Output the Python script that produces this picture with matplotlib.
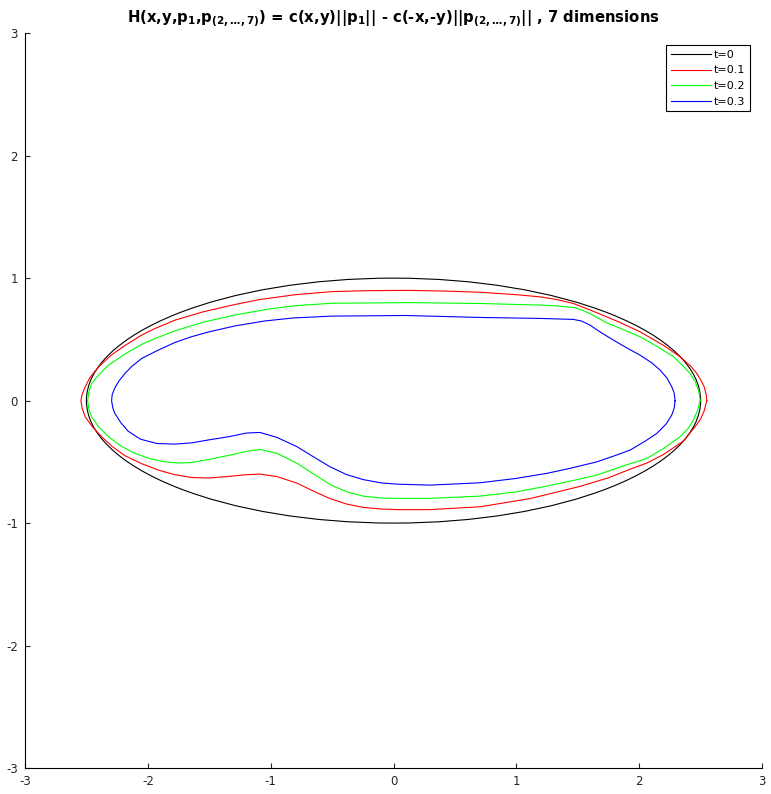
import numpy as np
from matplotlib import pyplot as plt
from matplotlib.patches import Ellipse
from matplotlib.lines import Line2D

plt.rcParams['font.family'] = ['DejaVu Sans']
plt.rcParams['mathtext.default'] = 'bf'
plt.rcParams['axes.unicode_minus'] = False

# t=0 : ellipse, semi axes
ellipse_a = 2.5
ellipse_b = 1.0

# t=0.1
red_x = [2.55, 2.545, 2.53, 2.50, 2.469, 2.42, 2.333, 2.20, 2.007, 1.85, 1.736, 1.60, 1.464, 1.33,
         1.193, 1.0, 0.704, 0.4, 0.13, -0.2, -0.5, -0.8, -1.09, -1.29, -1.55, -1.779, -1.95,
         -2.05, -2.186, -2.30, -2.40, -2.47, -2.51, -2.535, -2.545, -2.535, -2.51, -2.45, -2.376,
         -2.29, -2.186, -2.05, -1.915, -1.78, -1.643, -1.50, -1.331, -1.20, -1.087, -0.95, -0.788,
         -0.65, -0.517, -0.38, -0.246, -0.1, 0.026, 0.297, 0.704, 1.112, 1.519, 1.75, 1.926,
         2.062, 2.198, 2.36, 2.45, 2.50, 2.53, 2.55]
red_y = [0.0, 0.05, 0.11, 0.17, 0.222, 0.28, 0.358, 0.45, 0.562, 0.635, 0.684, 0.74, 0.793, 0.825,
         0.847, 0.865, 0.885, 0.895, 0.9, 0.898, 0.89, 0.865, 0.825, 0.785, 0.725, 0.657, 0.585,
         0.535, 0.45, 0.37, 0.276, 0.19, 0.113, 0.05, 0.0, -0.06, -0.132, -0.215, -0.295,
         -0.375, -0.45, -0.515, -0.567, -0.605, -0.628, -0.632, -0.618, -0.605, -0.6, -0.62, -0.673,
         -0.74, -0.8, -0.845, -0.872, -0.885, -0.89, -0.89, -0.867, -0.8, -0.7, -0.63, -0.56,
         -0.51, -0.44, -0.33, -0.22, -0.15, -0.08, 0.0]

# t=0.2
green_x = [2.496, 2.49, 2.482, 2.455, 2.414, 2.35, 2.279, 2.15, 2.007, 1.87, 1.736, 1.60, 1.52,
           1.464, 1.30, 1.193, 0.704, 0.13, -0.5, -0.8, -1.0, -1.29, -1.55, -1.779, -1.92, -2.05,
           -2.186, -2.32, -2.40, -2.458, -2.48, -2.49, -2.48, -2.458, -2.40, -2.32, -2.22, -2.105,
           -1.98, -1.861, -1.75, -1.643, -1.50, -1.331, -1.20, -1.087, -0.95, -0.788, -0.65,
           -0.517, -0.38, -0.246, -0.1, 0.026, 0.297, 0.704, 1.0, 1.248, 1.45, 1.655, 1.85, 2.062,
           2.20, 2.333, 2.40, 2.441, 2.475, 2.496]
green_y = [0.0, 0.05, 0.086, 0.155, 0.222, 0.29, 0.358, 0.44, 0.521, 0.58, 0.635, 0.71, 0.745,
           0.761, 0.775, 0.78, 0.793, 0.8, 0.795, 0.775, 0.75, 0.7, 0.64, 0.57, 0.515, 0.46,
           0.38, 0.29, 0.21, 0.14, 0.07, 0.0, -0.07, -0.132, -0.215, -0.295, -0.37, -0.431,
           -0.475, -0.5, -0.51, -0.505, -0.48, -0.445, -0.415, -0.398, -0.43, -0.51, -0.6,
           -0.685, -0.745, -0.78, -0.795, -0.798, -0.798, -0.78, -0.745, -0.698, -0.655, -0.608,
           -0.54, -0.472, -0.39, -0.295, -0.225, -0.159, -0.08, 0.0]

# t=0.3
blue_x = [2.292, 2.285, 2.265, 2.225, 2.17, 2.10, 2.007, 1.90, 1.79, 1.69, 1.60, 1.53, 1.464, 1.193,
          0.704, 0.1, -0.5, -0.816, -1.05, -1.29, -1.508, -1.65, -1.779, -1.92, -2.05, -2.13,
          -2.186, -2.235, -2.268, -2.29, -2.295, -2.285, -2.268, -2.22, -2.16, -2.06, -1.928,
          -1.78, -1.643, -1.50, -1.331, -1.20, -1.087, -0.95, -0.788, -0.65, -0.517, -0.38,
          -0.246, -0.1, 0.026, 0.297, 0.704, 1.0, 1.248, 1.45, 1.655, 1.80, 1.926, 2.05, 2.143,
          2.22, 2.265, 2.285, 2.292]
blue_y = [0.0, 0.06, 0.113, 0.185, 0.249, 0.31, 0.371, 0.43, 0.494, 0.555, 0.616, 0.65, 0.663,
          0.671, 0.679, 0.695, 0.69, 0.675, 0.65, 0.61, 0.56, 0.52, 0.475, 0.41, 0.344, 0.28,
          0.222, 0.16, 0.105, 0.05, 0.0, -0.06, -0.105, -0.18, -0.25, -0.315, -0.35,
          -0.355, -0.345, -0.32, -0.293, -0.265, -0.26, -0.3, -0.375, -0.46, -0.54, -0.605,
          -0.645, -0.672, -0.682, -0.69, -0.671, -0.635, -0.594, -0.55, -0.5, -0.45, -0.404,
          -0.33, -0.268, -0.19, -0.118, -0.06, 0.0]

ticks = [-3, -2, -1, 0, 1, 2, 3]

fig = plt.figure(figsize=(7.71, 7.94), dpi=100)
ax = fig.add_axes([0.0324, 0.0327, 0.9560, 0.9255])

ax.add_patch(Ellipse((0, 0), 2 * ellipse_a, 2 * ellipse_b, fill=False, edgecolor='black', lw=0.8))
ax.plot(red_x, red_y, color='#ff0000', lw=0.8)
ax.plot(green_x, green_y, color='#00ff00', lw=0.8)
ax.plot(blue_x, blue_y, color='#0000ff', lw=0.8)

ax.set_xlim(-3, 3)
ax.set_ylim(-3, 3)
ax.set_xticks(ticks)
ax.set_yticks(ticks)
ax.spines['top'].set_visible(False)
ax.spines['right'].set_visible(False)
ax.spines['left'].set_linewidth(0.8)
ax.spines['bottom'].set_linewidth(0.8)
ax.tick_params(direction='in', length=3.5, width=0.8, labelsize=8.5, colors='#262626', pad=5)

ax.set_title('H(x,y,p$_1$,p$_{(2,…,7)}$) = c(x,y)||p$_1$|| - c(-x,-y)||p$_{(2,…,7)}$|| , 7 dimensions',
             fontsize=10.7, fontweight='bold', pad=7)

handles = [Line2D([], [], color='black', lw=0.8),
           Line2D([], [], color='#ff0000', lw=0.8),
           Line2D([], [], color='#00ff00', lw=0.8),
           Line2D([], [], color='#0000ff', lw=0.8)]
labels = ['t=0', 't=0.1', 't=0.2', 't=0.3']
leg = ax.legend(handles, labels, loc='upper right', fontsize=8, fancybox=False, framealpha=1,
                edgecolor='black', handlelength=3.6, handletextpad=0.3, labelspacing=0.5,
                borderpad=0.4, borderaxespad=1.1)
leg.get_frame().set_linewidth(0.8)

plt.savefig('out.png', dpi=100)
